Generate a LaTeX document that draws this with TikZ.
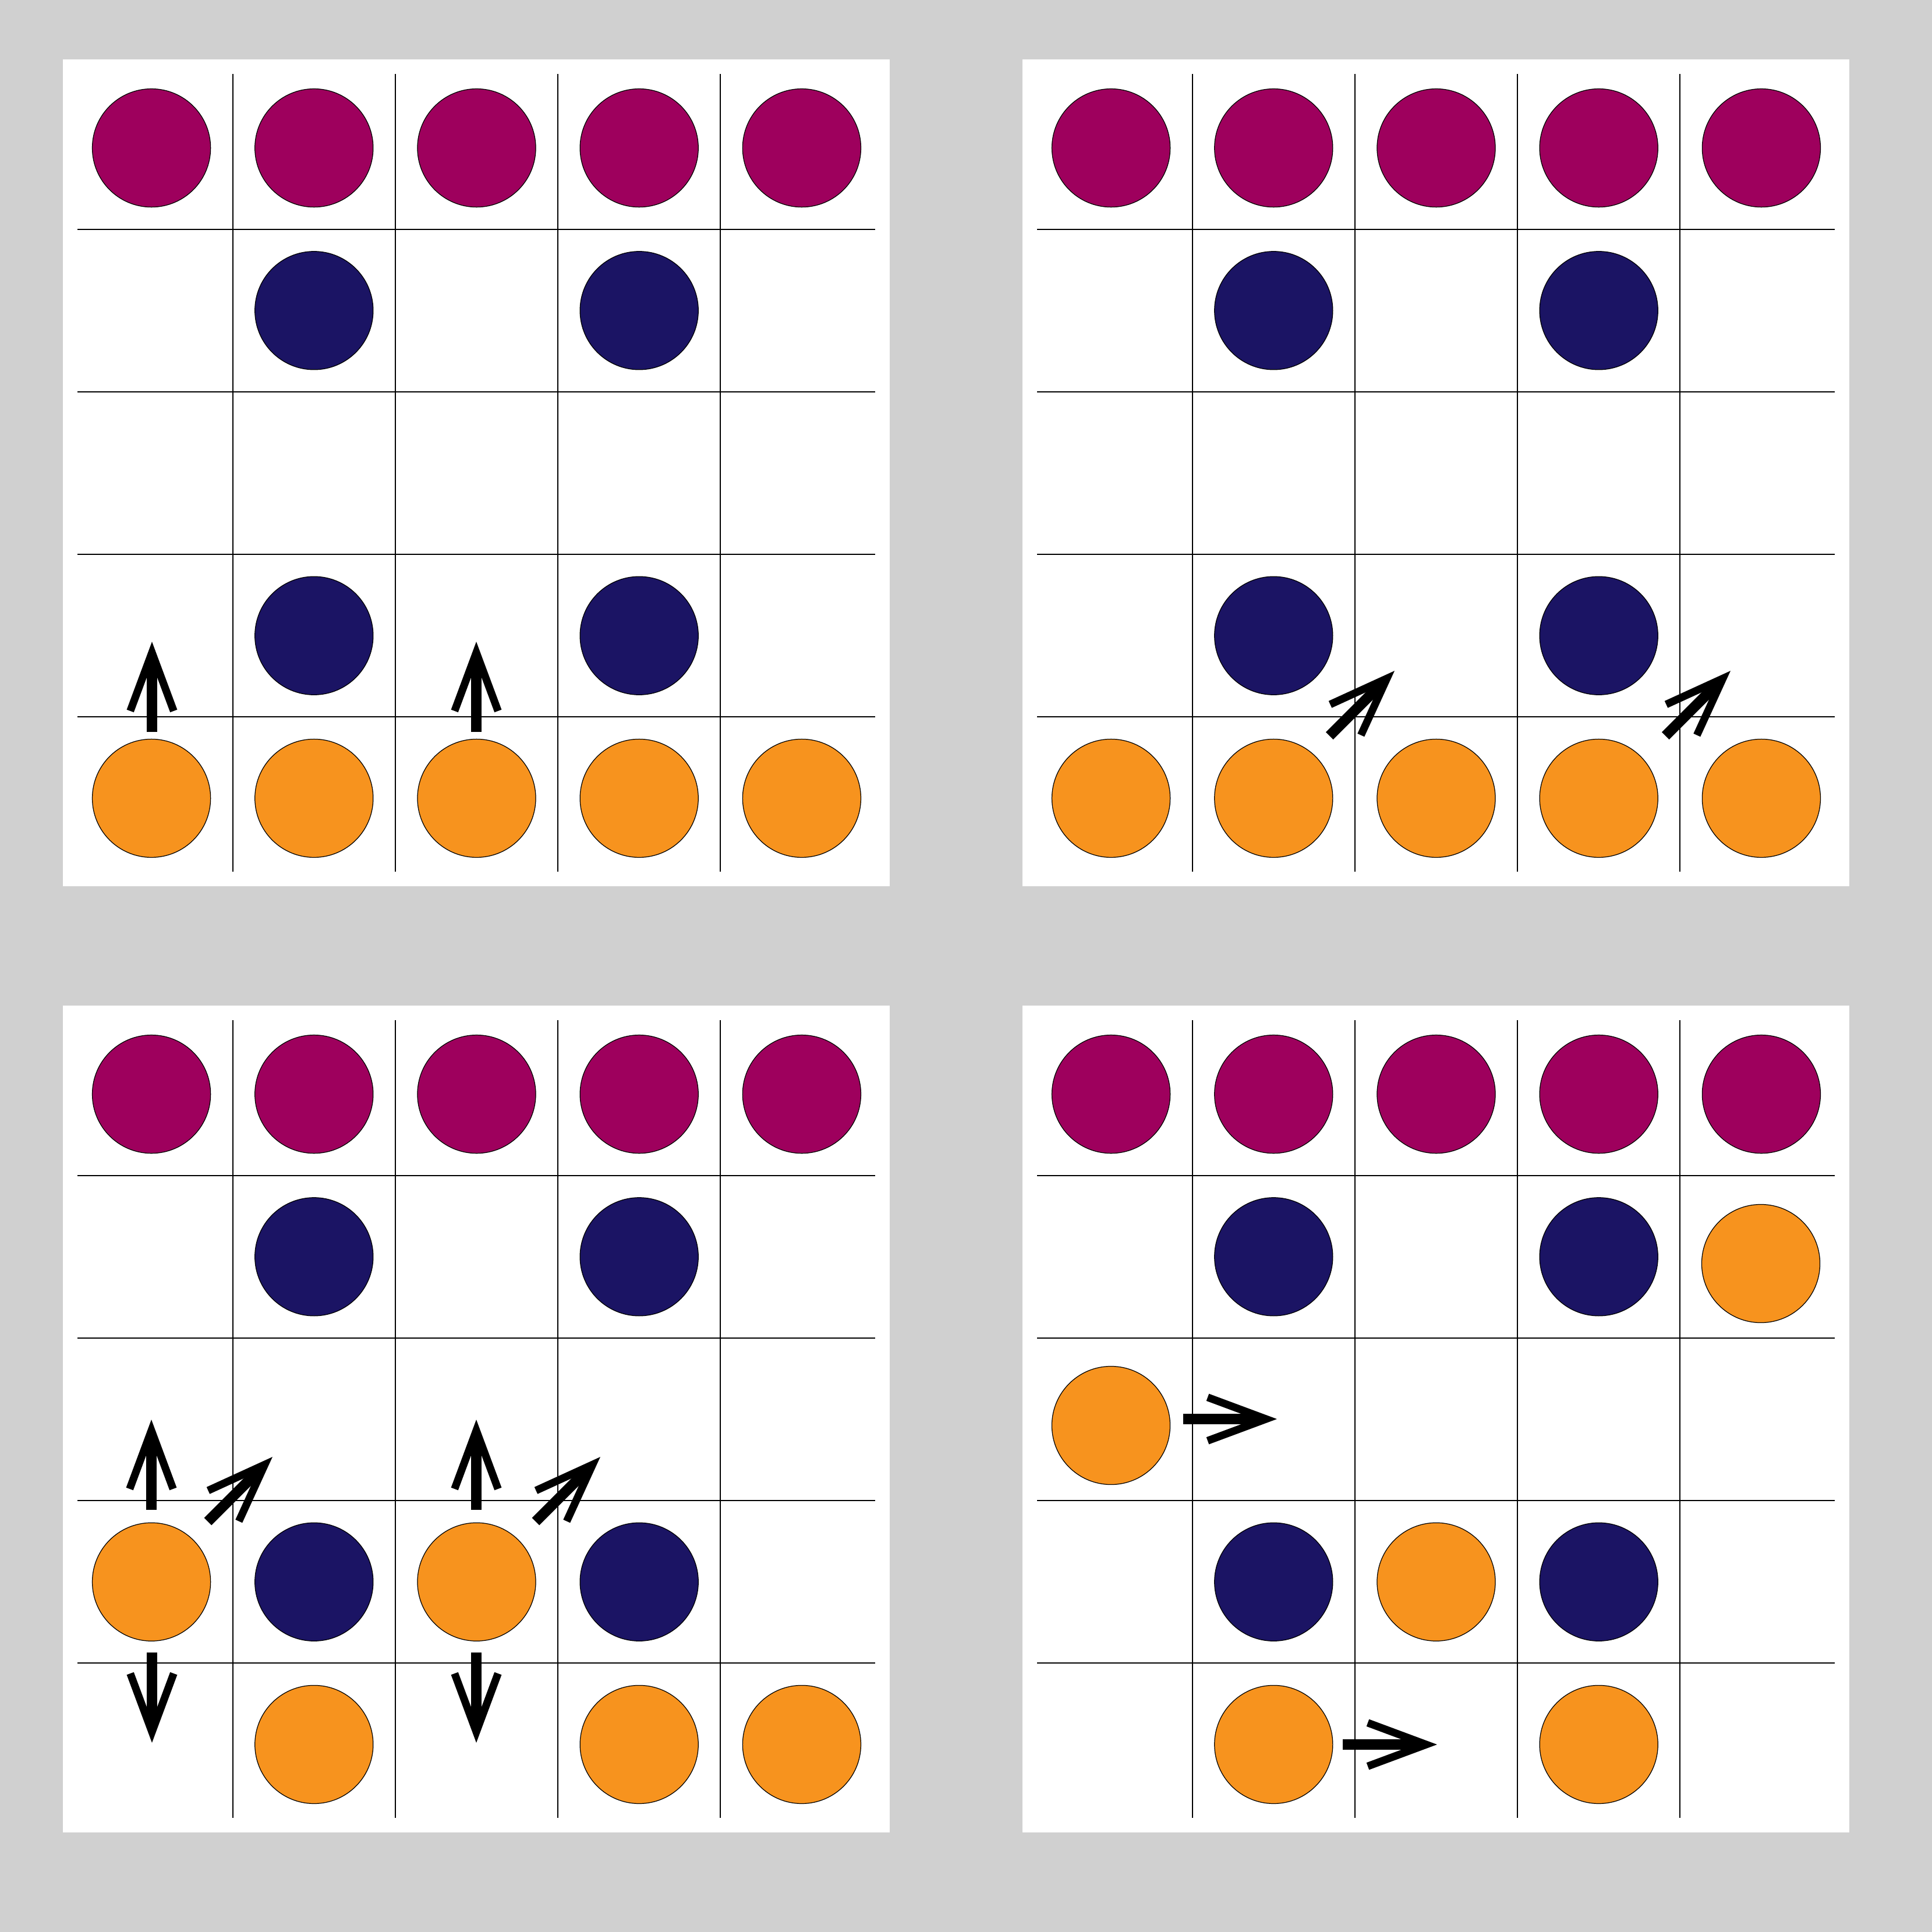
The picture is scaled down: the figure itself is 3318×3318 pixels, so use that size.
\documentclass[tikz,border=0pt]{standalone}
\definecolor{bggray}{HTML}{D0D0D0}
\definecolor{plum}{HTML}{9E005D}
\definecolor{navyblue}{HTML}{1B1464}
\definecolor{amber}{HTML}{F7931E}
\tikzset{
  gridline/.style={black, line width=0.6pt},
  piece/.style={circle, draw=black, line width=0.35pt, minimum size=2.03cm, inner sep=0pt},
  pplum/.style={piece, fill=plum},
  pnavy/.style={piece, fill=navyblue},
  pamber/.style={piece, fill=amber},
  mvshaft/.style={black, line width=5.1pt, line cap=butt},
  mvhead/.style={black, line width=3.7pt, line cap=butt, line join=miter, miter limit=10},
}
% board: origin x, origin y
\newcommand\boardgrid[2]{%
  \fill[white] (#1,#2) rectangle ++(1420,1420);
  \foreach \k in {0,...,3}{%
    \draw[gridline] ({#1+291.7+279.2*\k},{#2+25}) -- ++(0,1370);
    \draw[gridline] ({#1+25},{#2+291.7+279.2*\k}) -- ++(1370,0);
  }%
}
% move arrow: tip x, tip y, angle, length
\newcommand\mvarrow[4]{%
  \begin{scope}[shift={(#1,#2)}, rotate=#3]
    \draw[mvshaft] (-#4,0) -- (-30,0);
    \draw[mvhead] (-119,37.3) -- (-18.7,0) -- (-119,-37.3);
  \end{scope}%
}
\begin{document}
\begin{tikzpicture}[x=0.01cm, y=-0.01cm]
\fill[bggray] (0,0) rectangle (3318,3318);
\useasboundingbox (0,0) rectangle (3318,3318);

% ---------- top-left board ----------
\boardgrid{108}{102}
\foreach \c in {0,...,4}{
  \node[pplum] (tl-r0c\c) at ({108+152.1+279.2*\c},{102+152.1}) {};
  \node[pamber] (tl-r4c\c) at ({108+152.1+279.2*\c},{102+152.1+279.2*4}) {};
}
\foreach \c in {1,3}{
  \node[pnavy] (tl-r1c\c) at ({108+152.1+279.2*\c},{102+152.1+279.2}) {};
  \node[pnavy] (tl-r3c\c) at ({108+152.1+279.2*\c},{102+152.1+279.2*3}) {};
}
\mvarrow{261}{1102}{90}{155}
\mvarrow{818}{1102}{90}{155}

% ---------- top-right board ----------
\boardgrid{1756}{102}
\foreach \c in {0,...,4}{
  \node[pplum] (tr-r0c\c) at ({1756+152.1+279.2*\c},{102+152.1}) {};
  \node[pamber] (tr-r4c\c) at ({1756+152.1+279.2*\c},{102+152.1+279.2*4}) {};
}
\foreach \c in {1,3}{
  \node[pnavy] (tr-r1c\c) at ({1756+152.1+279.2*\c},{102+152.1+279.2}) {};
  \node[pnavy] (tr-r3c\c) at ({1756+152.1+279.2*\c},{102+152.1+279.2*3}) {};
}
\mvarrow{2395}{1152}{45}{158}
\mvarrow{2972}{1152}{45}{158}

% ---------- bottom-left board ----------
\boardgrid{108}{1727}
\foreach \c in {0,...,4}{
  \node[pplum] (bl-r0c\c) at ({108+152.1+279.2*\c},{1727+152.1}) {};
}
\foreach \c in {1,3}{
  \node[pnavy] (bl-r1c\c) at ({108+152.1+279.2*\c},{1727+152.1+279.2}) {};
  \node[pnavy] (bl-r3c\c) at ({108+152.1+279.2*\c},{1727+152.1+279.2*3}) {};
}
\foreach \c in {0,2}{
  \node[pamber] (bl-r3c\c) at ({108+152.1+279.2*\c},{1727+152.1+279.2*3}) {};
}
\foreach \c in {1,3,4}{
  \node[pamber] (bl-r4c\c) at ({108+152.1+279.2*\c},{1727+152.1+279.2*4}) {};
}
\mvarrow{260}{2438}{90}{155}
\mvarrow{818}{2438}{90}{155}
\mvarrow{468}{2502}{45}{157}
\mvarrow{1031}{2502}{45}{157}
\mvarrow{261}{2993}{270}{155}
\mvarrow{818}{2993}{270}{155}

% ---------- bottom-right board ----------
\boardgrid{1756}{1727}
\foreach \c in {0,...,4}{
  \node[pplum] (br-r0c\c) at ({1756+152.1+279.2*\c},{1727+152.1}) {};
}
\foreach \c in {1,3}{
  \node[pnavy] (br-r1c\c) at ({1756+152.1+279.2*\c},{1727+152.1+279.2}) {};
  \node[pnavy] (br-r3c\c) at ({1756+152.1+279.2*\c},{1727+152.1+279.2*3}) {};
  \node[pamber] (br-r4c\c) at ({1756+152.1+279.2*\c},{1727+152.1+279.2*4}) {};
}
\node[pamber] (br-r3c2) at ({1756+152.1+279.2*2},{1727+152.1+279.2*3}) {};
\node[pamber] (br-r1c4) at (3024,2170) {};
\node[pamber] (br-r2c0) at (1908,2448) {};
\mvarrow{2193}{2437}{0}{161}
\mvarrow{2468}{2996}{0}{162}
\end{tikzpicture}
\end{document}
